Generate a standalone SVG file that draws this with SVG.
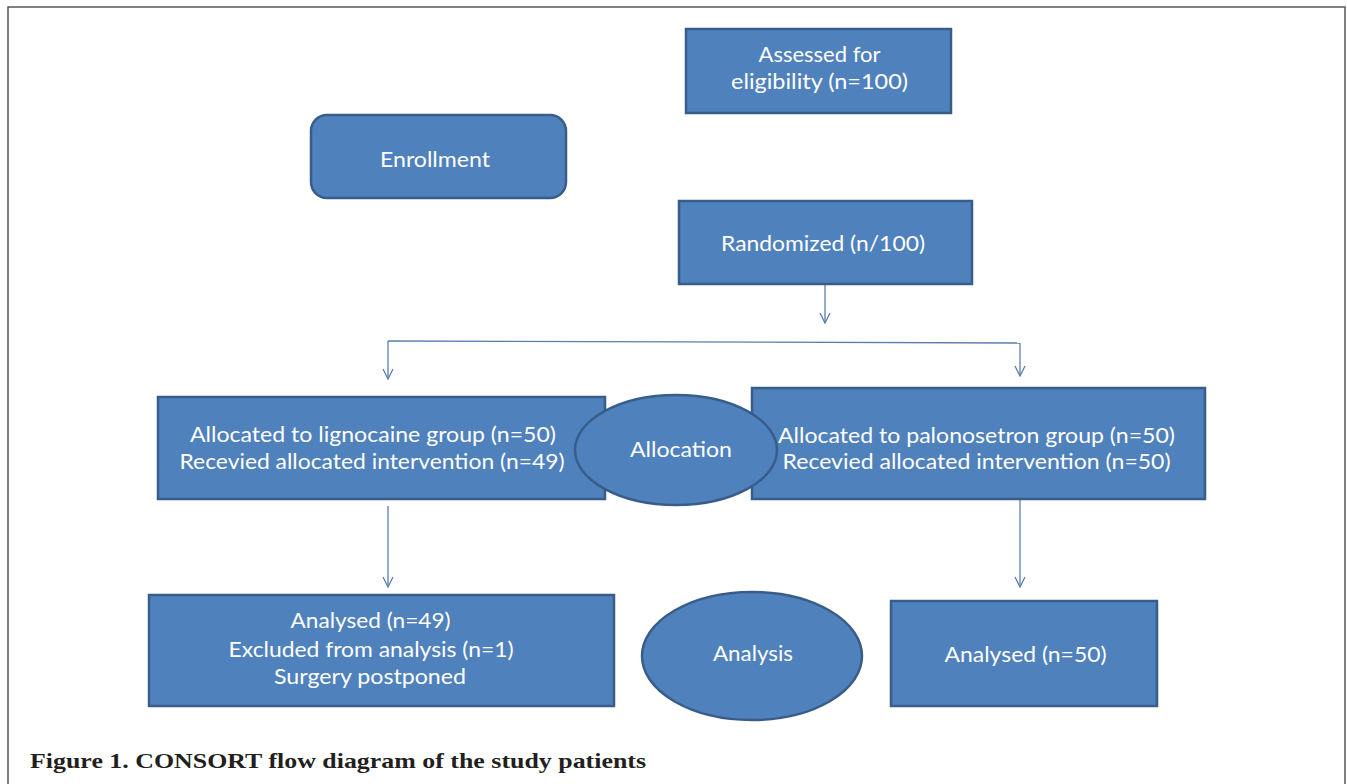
<svg xmlns="http://www.w3.org/2000/svg" width="1347" height="784" viewBox="0 0 1347 784">
<style>
.box{fill:#4F81BD;stroke:#385D8A;stroke-width:2.5}
.t{font-family:Lato,"Open Sans",sans-serif;font-size:21px;fill:#fff;text-anchor:start}
.cap{font-family:"Liberation Serif",serif;font-weight:bold;font-size:22px;fill:#231f20}
.con{fill:none;stroke:#5A7DAE;stroke-width:1.3}
</style>
<defs>
<marker id="ah" viewBox="0 0 12 12" refX="11" refY="6" markerWidth="12" markerHeight="12" markerUnits="userSpaceOnUse" orient="auto">
<path d="M1,1 L11,6 L1,11" fill="none" stroke="#5A7DAE" stroke-width="1.3"/>
</marker>
</defs>
<rect width="1347" height="784" fill="#fff"/>
<path d="M8,784 V7 H1345 V784" fill="none" stroke="#555" stroke-width="1.5"/>
<g id="connectors">
<path class="con" d="M825,284 V323" marker-end="url(#ah)"/>
<path class="con" d="M388,341 L1020,343"/>
<path class="con" d="M388,341 V379" marker-end="url(#ah)"/>
<path class="con" d="M1020,343 V376" marker-end="url(#ah)"/>
<path class="con" d="M388,506 V587" marker-end="url(#ah)"/>
<path class="con" d="M1020,499 V587" marker-end="url(#ah)"/>
</g>
<g id="assessed">
<rect class="box" x="686" y="29" width="265" height="84"/>
<text class="t" x="758.5" y="62" textLength="122" lengthAdjust="spacingAndGlyphs">Assessed for</text>
<text class="t" x="731" y="89" textLength="177" lengthAdjust="spacingAndGlyphs">eligibility (n=100)</text>
</g>
<g id="enrollment">
<rect class="box" x="311" y="115" width="255" height="83" rx="16"/>
<text class="t" x="380" y="167" textLength="110" lengthAdjust="spacingAndGlyphs">Enrollment</text>
</g>
<g id="randomized">
<rect class="box" x="679" y="201" width="293" height="83"/>
<text class="t" x="721" y="251" textLength="204" lengthAdjust="spacingAndGlyphs">Randomized (n/100)</text>
</g>
<g id="alloc-left">
<rect class="box" x="158" y="397" width="447" height="102"/>
<text class="t" x="190" y="442" textLength="366" lengthAdjust="spacingAndGlyphs">Allocated to lignocaine group (n=50)</text>
<text class="t" x="179.5" y="469" textLength="385" lengthAdjust="spacingAndGlyphs">Recevied allocated intervention (n=49)</text>
</g>
<g id="alloc-right">
<rect class="box" x="752" y="388" width="453" height="111"/>
<text class="t" x="778" y="443" textLength="397" lengthAdjust="spacingAndGlyphs">Allocated to palonosetron group (n=50)</text>
<text class="t" x="782.6" y="469" textLength="388" lengthAdjust="spacingAndGlyphs">Recevied allocated intervention (n=50)</text>
</g>
<g id="allocation">
<ellipse class="box" cx="676" cy="450" rx="101" ry="55"/>
<text class="t" x="630" y="457" textLength="102" lengthAdjust="spacingAndGlyphs">Allocation</text>
</g>
<g id="analysed-left">
<rect class="box" x="149" y="595" width="465" height="111"/>
<text class="t" x="290.6" y="628" textLength="160" lengthAdjust="spacingAndGlyphs">Analysed (n=49)</text>
<text class="t" x="228.6" y="657" textLength="285" lengthAdjust="spacingAndGlyphs">Excluded from analysis (n=1)</text>
<text class="t" x="274" y="684" textLength="192" lengthAdjust="spacingAndGlyphs">Surgery postponed</text>
</g>
<g id="analysis">
<ellipse class="box" cx="752" cy="656" rx="110" ry="64"/>
<text class="t" x="713" y="661" textLength="80" lengthAdjust="spacingAndGlyphs">Analysis</text>
</g>
<g id="analysed-right">
<rect class="box" x="891" y="601" width="266" height="105"/>
<text class="t" x="944.6" y="662" textLength="162" lengthAdjust="spacingAndGlyphs">Analysed (n=50)</text>
</g>
<text class="cap" x="30" y="768" textLength="616" lengthAdjust="spacingAndGlyphs">Figure 1. CONSORT flow diagram of the study patients</text>
</svg>
